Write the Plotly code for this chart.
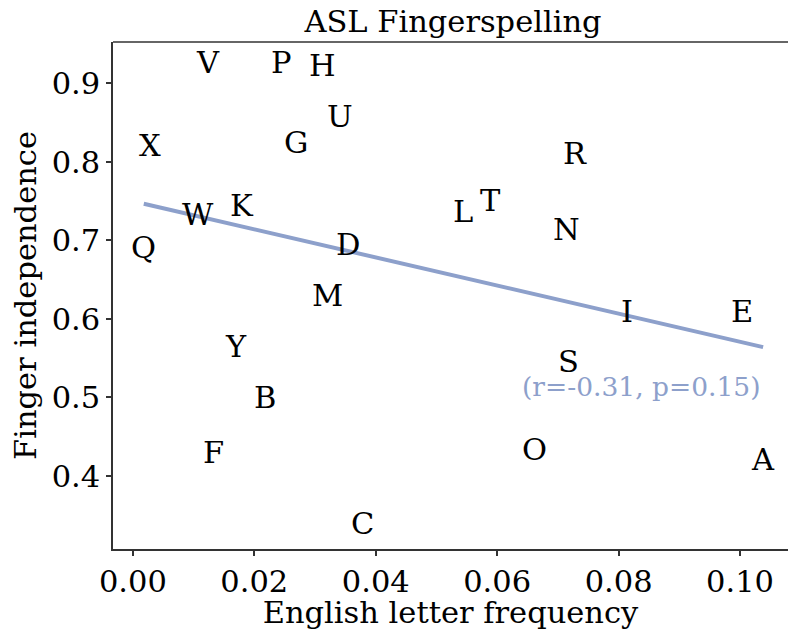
import numpy as np
import plotly.graph_objects as go

# Letters of the ASL manual alphabet with English frequency and finger independence
letters = ["A", "B", "C", "D", "E", "F", "G", "H", "I", "K", "L", "M", "N",
           "O", "P", "Q", "R", "S", "T", "U", "V", "W", "X", "Y"]
frequency = [0.1038, 0.0217, 0.0378, 0.0354, 0.1004, 0.0132, 0.0268, 0.0312,
             0.0814, 0.0180, 0.0543, 0.0321, 0.0715, 0.0661, 0.0245, 0.0018,
             0.0728, 0.0717, 0.0589, 0.0341, 0.0124, 0.0107, 0.0028, 0.0170]
independence = [0.420, 0.499, 0.338, 0.694, 0.608, 0.428, 0.824, 0.921,
                0.608, 0.743, 0.736, 0.628, 0.713, 0.433, 0.925, 0.690,
                0.809, 0.545, 0.749, 0.857, 0.925, 0.732, 0.819, 0.563]

x_ticks = [0.00, 0.02, 0.04, 0.06, 0.08, 0.10]
y_ticks = [0.4, 0.5, 0.6, 0.7, 0.8, 0.9]
r_value, p_value = -0.31, 0.15

FONT = "DejaVu Serif"
SIZE = 30.5
LINE_COLOR = "#8da0cb"
SPINE = "#333333"

x = np.array(frequency)
y = np.array(independence)
slope, intercept = np.polyfit(x, y, 1)
fit_x = np.array([x.min(), x.max()])
fit_y = intercept + slope * fit_x

fig = go.Figure()
fig.add_trace(go.Scatter(
    x=fit_x, y=fit_y, mode="lines",
    line=dict(color=LINE_COLOR, width=4),
    hoverinfo="skip", showlegend=False,
))

# each letter is drawn centred on its (frequency, independence) point
for letter, fx, fy in zip(letters, frequency, independence):
    fig.add_annotation(
        x=fx, y=fy, xref="x", yref="y", text=letter, showarrow=False,
        xanchor="center", yanchor="middle", yshift=1,
        font=dict(family=FONT, size=SIZE, color="black"),
    )

fig.add_annotation(
    x=x.max(), y=0.5115, xref="x", yref="y",
    text=f"(r={r_value:.2f}, p={p_value:.2f})",
    showarrow=False, xanchor="right", yanchor="middle", yshift=2,
    font=dict(family=FONT, size=26.5, color=LINE_COLOR),
)

# top spine across the plot area
fig.add_shape(type="line", xref="paper", yref="paper", x0=0, x1=1, y0=1, y1=1,
              line=dict(color=SPINE, width=1.5))

fig.update_layout(
    width=788, height=630,
    margin=dict(l=113, r=0, t=42, b=81),
    paper_bgcolor="white", plot_bgcolor="white",
    font=dict(family=FONT, size=SIZE, color="black"),
    title=dict(text="ASL Fingerspelling", x=453 / 788, xanchor="center",
               y=1 - 21 / 630, yanchor="middle",
               font=dict(family=FONT, size=SIZE)),
)
fig.update_xaxes(
    range=[-0.00327, 0.1079], tickvals=x_ticks,
    ticktext=[f"{v:.2f}" for v in x_ticks],
    showgrid=False, zeroline=False, showline=True, linecolor=SPINE, linewidth=1.5,
    ticks="outside", ticklen=5, tickwidth=1.5, tickcolor=SPINE,
    tickfont=dict(family=FONT, size=SIZE),
    title=dict(text="English letter frequency", font=dict(family=FONT, size=SIZE),
               standoff=6),
)
fig.update_yaxes(
    range=[0.3069, 0.9527], tickvals=y_ticks,
    ticktext=[f"{v:.1f}" for v in y_ticks],
    showgrid=False, zeroline=False, showline=True, linecolor=SPINE, linewidth=1.5,
    ticks="outside", ticklen=5, tickwidth=1.5, tickcolor=SPINE,
    tickfont=dict(family=FONT, size=SIZE),
    title=dict(text="Finger independence", font=dict(family=FONT, size=SIZE),
               standoff=6),
)

fig.write_html("out.html")
